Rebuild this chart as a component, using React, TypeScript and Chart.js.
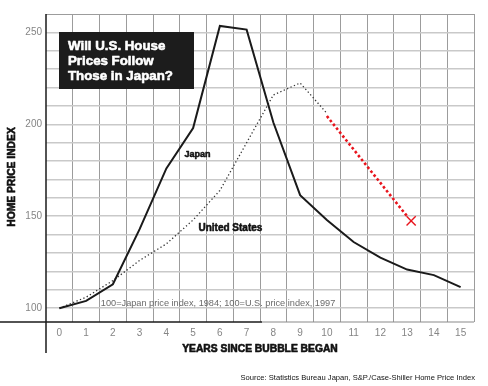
import React, { useEffect, useRef } from "react";
import { Chart, registerables } from "chart.js";
Chart.register(...registerables);

const years = [0, 1, 2, 3, 4, 5, 6, 7, 8, 9, 10, 11, 12, 13, 14, 15];
const japanIndex = [100, 104, 113, 143, 176, 198, 253.5, 251.5, 201, 161.5, 148, 136, 127.5, 121, 118, 111.5];
const usYears = [0, 1, 2, 3, 4, 5, 6, 7, 8, 9, 10];
const usIndex = [100, 106, 115, 126, 135, 148, 164, 190, 216, 222.5, 206];
const projectionYears = [10, 13];
const projectionIndex = [204.5, 150];
const markerYears = [13.15];
const markerIndex = [147.5];
const xTickLabels = ["0", "1", "2", "3", "4", "5", "6", "7", "8", "9", "10", "11", "12", "13", "14", "15"];
const yTickValues = [100, 150, 200, 250];
const titleLines = ["Will U.S. House", "Prices Follow", "Those in Japan?"];
const xTitle = "YEARS SINCE BUBBLE BEGAN";
const yTitle = "HOME PRICE INDEX";
const noteText = "100=Japan price index, 1984; 100=U.S. price index, 1997";
const sourceText = "Source: Statistics Bureau Japan, S&P./Case-Shiller Home Price Index";
const japanLabel = { text: "Japan", x: 4.68, y: 183.5 };
const usLabel = { text: "United States", x: 5.2, y: 143.5 };
const noteAnchor = { x: 1.55, y: 102.8 };

const pts = (xs: number[], ys: number[]) => xs.map((x, i) => ({ x, y: ys[i] }));

const SANS = '"Liberation Sans", Arial, sans-serif';

function heavyText(ctx: CanvasRenderingContext2D, t: string, px: number, py: number, color: string, w = 0.5) {
  ctx.fillStyle = color;
  ctx.strokeStyle = color;
  ctx.lineWidth = w;
  ctx.lineJoin = "round";
  ctx.strokeText(t, px, py);
  ctx.fillText(t, px, py);
}

const decor = {
  id: "decor",
  afterDraw(chart: any) {
    const { ctx, chartArea: a, scales } = chart;
    const x = scales.x;
    const y = scales.y;
    ctx.save();
    // axis frame lines
    ctx.strokeStyle = "#1a1a1a";
    ctx.lineWidth = 1.5;
    ctx.beginPath();
    ctx.moveTo(a.left, a.top);
    ctx.lineTo(a.left, 353);
    ctx.stroke();
    ctx.beginPath();
    ctx.moveTo(0, a.bottom);
    ctx.lineTo(262, a.bottom);
    ctx.stroke();
    ctx.strokeStyle = "#8a8a8a";
    ctx.lineWidth = 1.2;
    ctx.beginPath();
    ctx.moveTo(262, a.bottom);
    ctx.lineTo(a.right, a.bottom);
    ctx.stroke();

    // tick labels
    ctx.fillStyle = "#858585";
    ctx.font = `10px ${SANS}`;
    ctx.textBaseline = "middle";
    ctx.textAlign = "center";
    xTickLabels.forEach((t, i) => {
      ctx.fillText(t, x.getPixelForValue(years[i]), a.bottom + 11);
    });
    ctx.textAlign = "right";
    yTickValues.forEach((v) => {
      ctx.fillText(String(v), a.left - 4, y.getPixelForValue(v));
    });

    // axis titles
    ctx.font = `bold 10.3px ${SANS}`;
    ctx.textAlign = "center";
    heavyText(ctx, xTitle, (a.left + a.right) / 2, 349, "#111", 0.6);
    ctx.save();
    ctx.translate(12, 177);
    ctx.rotate(-Math.PI / 2);
    heavyText(ctx, yTitle, 0, 0, "#111", 0.6);
    ctx.restore();

    // source
    ctx.fillStyle = "#111";
    ctx.font = `7.6px ${SANS}`;
    ctx.textAlign = "right";
    ctx.fillText(sourceText, 475, 378);

    // note
    ctx.fillStyle = "#6a6a6a";
    ctx.font = `9.2px ${SANS}`;
    ctx.textAlign = "left";
    ctx.fillText(noteText, x.getPixelForValue(noteAnchor.x), y.getPixelForValue(noteAnchor.y));

    // series labels
    ctx.font = `bold 9px ${SANS}`;
    heavyText(ctx, japanLabel.text, x.getPixelForValue(japanLabel.x), y.getPixelForValue(japanLabel.y), "#111", 0.5);
    ctx.font = `bold 10px ${SANS}`;
    heavyText(ctx, usLabel.text, x.getPixelForValue(usLabel.x), y.getPixelForValue(usLabel.y), "#111", 0.5);

    // title box
    ctx.fillStyle = "#1c1c1c";
    ctx.fillRect(59, 32, 135, 57);
    ctx.font = `bold 13.3px ${SANS}`;
    titleLines.forEach((t, i) => {
      heavyText(ctx, t, 68, 46 + i * 15, "#ffffff", 0.6);
    });
    ctx.restore();
  },
};

export default function App() {
  const ref = useRef<HTMLCanvasElement | null>(null);
  useEffect(() => {
    document.body.style.margin = "0";
    const canvas = ref.current;
    if (!canvas) return;
    const chart = new Chart(canvas, {
      type: "line",
      data: {
        datasets: [
          {
            label: "Japan",
            data: pts(years, japanIndex),
            borderColor: "#1a1a1a",
            borderWidth: 2,
            pointRadius: 0,
            tension: 0,
          },
          {
            label: "United States",
            data: pts(usYears, usIndex),
            borderColor: "#333",
            borderWidth: 1.3,
            borderDash: [1.3, 2.4],
            pointRadius: 0,
            tension: 0,
          },
          {
            label: "Projection",
            data: pts(projectionYears, projectionIndex),
            borderColor: "#e8141c",
            borderWidth: 2.6,
            borderDash: [2.6, 2.4],
            pointRadius: 0,
            tension: 0,
          },
          {
            label: "Marker",
            data: pts(markerYears, markerIndex),
            showLine: false,
            pointStyle: "crossRot",
            pointRadius: 6.5,
            pointBorderColor: "#e8141c",
            pointBorderWidth: 1.4,
            borderColor: "#e8141c",
          },
        ],
      },
      options: {
        responsive: false,
        animation: false,
        events: [],
        layout: { padding: { left: 46, top: 14, right: 14, bottom: 64 } },
        plugins: { legend: { display: false }, tooltip: { enabled: false } },
        scales: {
          x: {
            type: "linear",
            min: -0.5,
            max: 15.5,
            ticks: { display: false, stepSize: 1 },
            grid: {
              drawTicks: false,
              color: (c: any) => (c.tick && c.tick.value === -0.5 ? "rgba(0,0,0,0)" : "#9c9c9c"),
              lineWidth: 1,
            },
            border: { display: false },
          },
          y: {
            type: "linear",
            min: 92.5,
            max: 260,
            ticks: { display: false, stepSize: 10 },
            grid: {
              drawTicks: false,
              color: (c: any) => (c.tick && c.tick.value === 92.5 ? "rgba(0,0,0,0)" : c.tick && c.tick.value === 260 ? "#9c9c9c" : "#c9c9c9"),
              lineWidth: (c: any) => (c.tick && c.tick.value === 260 ? 1 : 1.6),
            },
            border: { display: false },
          },
        },
      },
      plugins: [decor],
    });
    return () => chart.destroy();
  }, []);
  return (
    <div style={{ width: 488, height: 386 }}>
      <canvas ref={ref} width={488} height={386} />
    </div>
  );
}
